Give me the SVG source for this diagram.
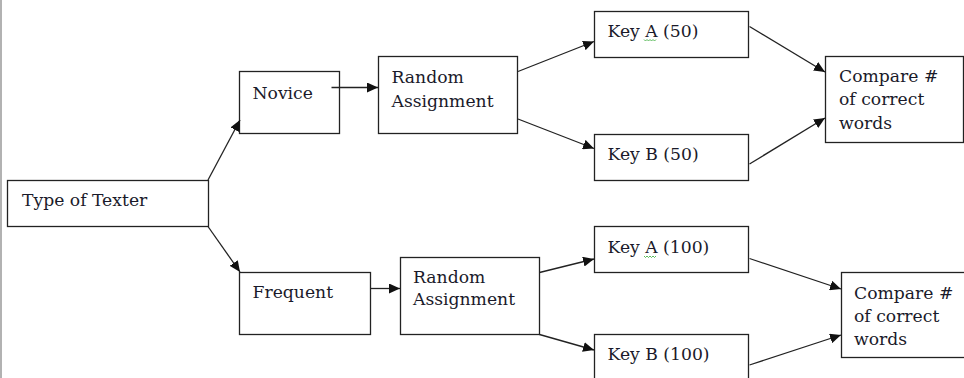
<svg xmlns="http://www.w3.org/2000/svg" width="964" height="378" viewBox="0 0 964 378">
<style>
.box{fill:#fff;stroke:#222;stroke-width:1.3}
.t{font-family:"DejaVu Serif","Liberation Serif",serif;font-size:17.2px;fill:#1a1a2a}
.c{stroke:#222;stroke-width:1.3;fill:none;marker-end:url(#ah)}
.sq{stroke:#3a3;stroke-width:0.8;fill:none}
</style>
<defs>
<marker id="ah" markerUnits="userSpaceOnUse" markerWidth="12" markerHeight="10" refX="11" refY="5" orient="auto">
<path d="M0,0 L11,5 L0,10 Z" fill="#111"/>
</marker>
</defs>
<rect width="964" height="378" fill="#fff"/>
<line x1="1" y1="0" x2="1" y2="378" stroke="#999" stroke-width="1.5"/>
<g id="type-of-texter">
<rect class="box" x="7.5" y="180.5" width="201" height="46"/>
<text class="t" x="22" y="206">Type of Texter</text>
</g>
<g id="novice">
<rect class="box" x="239.5" y="71.5" width="100" height="62"/>
<text class="t" x="252.5" y="98.5">Novice</text>
</g>
<g id="frequent">
<rect class="box" x="239.5" y="272.5" width="131" height="62"/>
<text class="t" x="252.5" y="297.5">Frequent</text>
</g>
<g id="random-1">
<rect class="box" x="378.5" y="56.5" width="139" height="77"/>
<text class="t" x="391.5" y="82.5">Random</text>
<text class="t" x="391.5" y="106.5">Assignment</text>
</g>
<g id="random-2">
<rect class="box" x="400.5" y="257.5" width="139" height="77"/>
<text class="t" x="413" y="282.5">Random</text>
<text class="t" x="413" y="304.5">Assignment</text>
</g>
<g id="key-a-50">
<rect class="box" x="594.5" y="11.5" width="154" height="46"/>
<text class="t" x="607.5" y="36.5">Key A (50)</text>
<path class="sq" d="M644,39.5 l1.5,1.5 l1.5,-1.5 l1.5,1.5 l1.5,-1.5 l1.5,1.5 l1.5,-1.5 l1.5,1.5 l1.5,-1.5"/>
</g>
<g id="key-b-50">
<rect class="box" x="594.5" y="134.5" width="154" height="46"/>
<text class="t" x="607.5" y="160">Key B (50)</text>
</g>
<g id="key-a-100">
<rect class="box" x="594.5" y="226.5" width="154" height="46"/>
<text class="t" x="607.5" y="252.5">Key A (100)</text>
<path class="sq" d="M644,256 l1.5,1.5 l1.5,-1.5 l1.5,1.5 l1.5,-1.5 l1.5,1.5 l1.5,-1.5 l1.5,1.5 l1.5,-1.5"/>
</g>
<g id="key-b-100">
<rect class="box" x="594.5" y="334.5" width="154" height="50"/>
<text class="t" x="607.5" y="360">Key B (100)</text>
</g>
<g id="compare-1">
<rect class="box" x="825.5" y="56.5" width="138" height="86"/>
<text class="t" x="839" y="81.5">Compare #</text>
<text class="t" x="839" y="105">of correct</text>
<text class="t" x="839" y="128.5">words</text>
</g>
<g id="compare-2">
<rect class="box" x="841.5" y="272.5" width="130" height="85"/>
<text class="t" x="854" y="299">Compare #</text>
<text class="t" x="854" y="321.5">of correct</text>
<text class="t" x="854" y="344.5">words</text>
</g>
<g id="connectors">
<line class="c" x1="208" y1="180" x2="240" y2="120"/>
<line class="c" x1="208" y1="226.5" x2="240" y2="272"/>
<line class="c" x1="331.5" y1="87.5" x2="378" y2="87.5"/>
<line class="c" x1="370.5" y1="288.5" x2="400" y2="288.5"/>
<line class="c" x1="518" y1="71.5" x2="594" y2="41.5"/>
<line class="c" x1="518" y1="119" x2="594" y2="148.5"/>
<line class="c" x1="539.5" y1="272.5" x2="594" y2="259"/>
<line class="c" x1="539.5" y1="334.5" x2="594" y2="350"/>
<line class="c" x1="749.5" y1="26.5" x2="825" y2="72"/>
<line class="c" x1="749.5" y1="164" x2="825" y2="118"/>
<line class="c" x1="749.5" y1="258.5" x2="841" y2="289"/>
<line class="c" x1="749.5" y1="365" x2="841" y2="335"/>
</g>
</svg>
